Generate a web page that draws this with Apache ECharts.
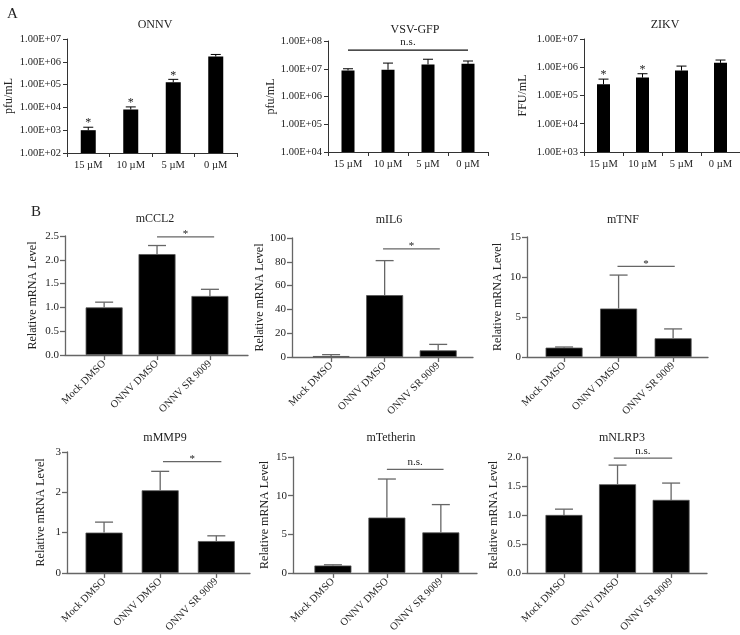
<!DOCTYPE html>
<html><head><meta charset="utf-8">
<script src="https://cdn.jsdelivr.net/npm/echarts@6/dist/echarts.min.js"></script>
<style>html,body{margin:0;padding:0;background:#fff}#c{width:740px;height:635px}</style>
</head><body><div id="c"></div>
<script>
// ---------- DATA ----------
const doseCats = ['15 µM', '10 µM', '5 µM', '0 µM'];
const onnvMean = [1.0e3, 8.1e3, 1.27e5, 1.7e6];
const onnvErr  = [1.35e3, 1.05e4, 1.7e5, 2.1e6];
const onnvStars = ['*', '*', '*', ''];
const vsvMean = [8.7e6, 9.2e6, 1.43e7, 1.5e7];
const vsvErr  = [1.0e7, 1.6e7, 2.2e7, 1.9e7];
const vsvStars = ['', '', '', ''];
const vsvSig = [0, 3, 4.7e7, 'n.s.'];
const zikvMean = [2.5e5, 4.3e5, 7.6e5, 1.43e6];
const zikvErr  = [3.8e5, 5.9e5, 1.1e6, 1.8e6];
const zikvStars = ['*', '*', '', ''];

const groupCats = ['Mock DMSO', 'ONNV DMSO', 'ONNV SR 9009'];
const ccl2Mean = [1.0, 2.12, 1.24];
const ccl2Err  = [1.11, 2.30, 1.38];
const ccl2Sig  = [1, 2.08, 2.48, '*'];
const il6Mean = [0.8, 52, 5.6];
const il6Err  = [2.0, 81, 10.6];
const il6Sig  = [0.97, 2.03, 90.8, '*'];
const tnfMean = [1.17, 6.06, 2.34];
const tnfErr  = [1.25, 10.24, 3.51];
const tnfSig  = [0.98, 2.03, 11.32, '*'];
const mmp9Mean = [1.0, 2.05, 0.79];
const mmp9Err  = [1.26, 2.52, 0.92];
const mmp9Sig  = [1.05, 2.09, 2.76, '*'];
const tethMean = [0.96, 7.16, 5.24];
const tethErr  = [1.05, 12.15, 8.84];
const tethSig  = [1.0, 2.05, 13.4, 'n.s.'];
const nlrpMean = [1.0, 1.53, 1.26];
const nlrpErr  = [1.10, 1.86, 1.55];
const nlrpSig  = [0.93, 2.02, 1.98, 'n.s.'];

// ---------- LAYOUT ----------
const FONT = 'Liberation Serif';
const TXT = '#222';
const panelsA = [
  {title: 'ONNV', yName: 'pfu/mL', mean: onnvMean, err: onnvErr, stars: onnvStars, sig: null,
   yMin: 1e2, yMax: 1e7, box: [67, 39, 170, 114], tXY: [150, 14], gap: 52, barW: 15},
  {title: 'VSV-GFP', yName: 'pfu/mL', mean: vsvMean, err: vsvErr, stars: vsvStars, sig: vsvSig,
   yMin: 1e4, yMax: 1e8, box: [328, 41, 160, 111], tXY: [410, 19], gap: 51, barW: 13},
  {title: 'ZIKV', yName: 'FFU/mL', mean: zikvMean, err: zikvErr, stars: zikvStars, sig: null,
   yMin: 1e3, yMax: 1e7, box: [584, 39, 156, 113], tXY: [660, 14], gap: 55, barW: 13}
];
const panelsB = [
  {title: 'mCCL2', mean: ccl2Mean, err: ccl2Err, sig: ccl2Sig, yMax: 2.5, step: 0.5, dec: 1,
   xr: [-0.74, 2.72], box: [65, 236, 183, 119], tXY: [150, 208], gap: 26},
  {title: 'mIL6', mean: il6Mean, err: il6Err, sig: il6Sig, yMax: 100, step: 20, dec: 0,
   xr: [-0.73, 2.65], box: [292, 238, 181, 119], tXY: [384, 209], gap: 23},
  {title: 'mTNF', mean: tnfMean, err: tnfErr, sig: tnfSig, yMax: 15, step: 5, dec: 0,
   xr: [-0.68, 2.64], box: [527, 237, 181, 120], tXY: [618, 209], gap: 23},
  {title: 'mMMP9', mean: mmp9Mean, err: mmp9Err, sig: mmp9Sig, yMax: 3, step: 1, dec: 0,
   xr: [-0.66, 2.6], box: [67, 452, 183, 124], tXY: [160, 427], gap: 20},
  {title: 'mTetherin', mean: tethMean, err: tethErr, sig: tethSig, yMax: 15, step: 5, dec: 0,
   xr: [-0.74, 2.67], box: [293, 457, 184, 119], tXY: [386, 427], gap: 22},
  {title: 'mNLRP3', mean: nlrpMean, err: nlrpErr, sig: nlrpSig, yMax: 2.0, step: 0.5, dec: 1,
   xr: [-0.69, 2.67], box: [527, 457, 180, 119], tXY: [617, 427], gap: 27}
];

const option = {animation: false, backgroundColor: '#fff', title: [], grid: [], xAxis: [], yAxis: [], series: []};
const tstyle = (size) => ({fontFamily: FONT, fontSize: size, fontWeight: 'normal', color: TXT});

option.title.push({text: 'A', left: 2, top: 2, textStyle: tstyle(15)});
option.title.push({text: 'B', left: 26, top: 200, textStyle: tstyle(15)});

function errSeries(gi, xs, means, errs, stars, cap, color, lw) {
  return {
    type: 'custom', xAxisIndex: gi, yAxisIndex: gi, z: 5,
    encode: {x: 0, y: [1, 2]},
    data: means.map((m, i) => [xs[i], m, errs[i]]),
    renderItem: (params, api) => {
      const x = api.value(0), m = api.value(1), e = api.value(2);
      const p0 = api.coord([x, m]), p1 = api.coord([x, e]);
      const ch = [
        {type: 'line', shape: {x1: p0[0], y1: p0[1], x2: p1[0], y2: p1[1]}, style: {stroke: color, lineWidth: lw}},
        {type: 'line', shape: {x1: p1[0] - cap, y1: p1[1], x2: p1[0] + cap, y2: p1[1]}, style: {stroke: color, lineWidth: lw}}
      ];
      const s = stars && stars[params.dataIndex];
      if (s) ch.push({type: 'text', style: {text: s, x: p1[0], y: p1[1] + 2, align: 'center', verticalAlign: 'bottom',
        fontFamily: FONT, fontSize: 12, fill: TXT}});
      return {type: 'group', children: ch};
    }
  };
}
function sigSeries(gi, sig, color) {
  return {
    type: 'custom', xAxisIndex: gi, yAxisIndex: gi, z: 6,
    encode: {x: [0, 1], y: 2},
    data: [[sig[0], sig[1], sig[2]]],
    renderItem: (params, api) => {
      const a = api.coord([api.value(0), api.value(2)]);
      const b = api.coord([api.value(1), api.value(2)]);
      return {type: 'group', children: [
        {type: 'line', shape: {x1: a[0], y1: a[1], x2: b[0], y2: b[1]}, style: {stroke: color, lineWidth: 1.3}},
        {type: 'text', style: {text: sig[3], x: (a[0] + b[0]) / 2, y: a[1] - (sig[3] === '*' ? -3 : 2),
          align: 'center', verticalAlign: 'bottom', fontFamily: FONT, fontSize: 11, fill: TXT}}
      ]};
    }
  };
}

panelsA.forEach((p) => {
  const gi = option.grid.length;
  option.title.push({text: p.title, left: p.tXY[0], top: p.tXY[1], textAlign: 'center', textStyle: tstyle(12)});
  option.grid.push({left: p.box[0], top: p.box[1], width: p.box[2], height: p.box[3], containLabel: false});
  option.xAxis.push({
    type: 'category', gridIndex: gi, data: doseCats, boundaryGap: true,
    axisLine: {lineStyle: {color: '#333', width: 1}},
    axisTick: {show: true, alignWithLabel: false, length: 4, lineStyle: {color: '#333'}},
    axisLabel: {fontFamily: FONT, fontSize: 10.5, color: TXT, margin: 7, interval: 0},
    splitLine: {show: false}
  });
  option.yAxis.push({
    type: 'log', logBase: 10, gridIndex: gi, min: p.yMin, max: p.yMax,
    name: p.yName, nameLocation: 'middle', nameGap: p.gap,
    nameTextStyle: {fontFamily: FONT, fontSize: 12, color: TXT},
    axisLine: {show: true, onZero: false, lineStyle: {color: '#333', width: 1}},
    axisTick: {show: true, length: 4, lineStyle: {color: '#333'}},
    minorTick: {show: false}, splitLine: {show: false},
    axisLabel: {fontFamily: FONT, fontSize: 10.5, color: TXT, margin: 6,
      formatter: (v) => '1.00E+' + String(Math.round(Math.log10(v))).padStart(2, '0')}
  });
  option.series.push({type: 'bar', xAxisIndex: gi, yAxisIndex: gi, data: p.mean, barWidth: p.barW,
    itemStyle: {color: '#000'}});
  option.series.push(errSeries(gi, [0, 1, 2, 3], p.mean, p.err, p.stars, 5, '#000', 1));
  if (p.sig) option.series.push(sigSeries(gi, p.sig, '#111'));
});

panelsB.forEach((p) => {
  const gi = option.grid.length;
  option.title.push({text: p.title, left: p.tXY[0], top: p.tXY[1], textAlign: 'center', textStyle: tstyle(12)});
  option.grid.push({left: p.box[0], top: p.box[1], width: p.box[2], height: p.box[3], containLabel: false});
  option.xAxis.push({
    type: 'value', gridIndex: gi, min: p.xr[0], max: p.xr[1],
    axisLine: {show: true, onZero: false, lineStyle: {color: '#666', width: 1.3}},
    axisTick: {show: true, length: 5, customValues: [0, 1, 2], lineStyle: {color: '#666', width: 1.3}},
    axisLabel: {fontFamily: FONT, fontSize: 10.5, color: TXT, rotate: 45, margin: 7,
      customValues: [0, 1, 2], formatter: (v) => groupCats[Math.round(v)]},
    splitLine: {show: false}
  });
  option.yAxis.push({
    type: 'value', gridIndex: gi, min: 0, max: p.yMax, interval: p.step,
    name: 'Relative mRNA Level', nameLocation: 'middle', nameGap: p.gap,
    nameTextStyle: {fontFamily: FONT, fontSize: 12, color: TXT},
    axisLine: {show: true, onZero: false, lineStyle: {color: '#666', width: 1.3}},
    axisTick: {show: true, length: 5, lineStyle: {color: '#666', width: 1.3}},
    splitLine: {show: false},
    axisLabel: {fontFamily: FONT, fontSize: 11, color: TXT, margin: 6,
      formatter: (v) => v.toFixed(p.dec)}
  });
  option.series.push({type: 'bar', xAxisIndex: gi, yAxisIndex: gi, barWidth: 37,
    data: p.mean.map((m, i) => [i, m]),
    itemStyle: {color: '#000', borderColor: '#555', borderWidth: 0.8}});
  option.series.push(errSeries(gi, [0, 1, 2], p.mean, p.err, null, 9, '#666', 1.3));
  option.series.push(sigSeries(gi, p.sig, '#666'));
});

const chart = echarts.init(document.getElementById('c'), null, {renderer: 'canvas'});
chart.setOption(option);
</script>
</body></html>
